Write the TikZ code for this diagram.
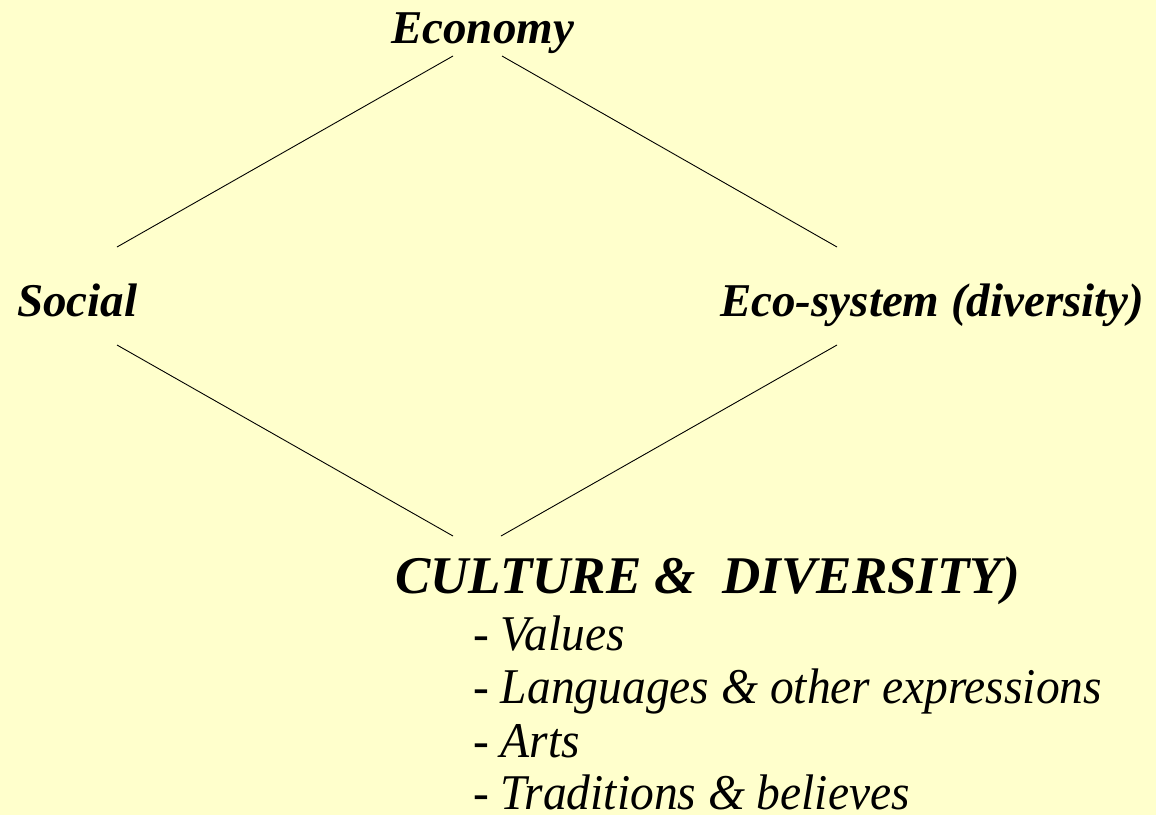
\documentclass[tikz,border=0pt]{standalone}
\usepackage{fontspec}
\setmainfont{Liberation Serif}
\newfontfamily\itemfont{Liberation Serif}[FakeStretch=0.95]
\definecolor{bgyellow}{HTML}{FFFFCC}
\begin{document}
\begin{tikzpicture}[x=1pt,y=-1pt,
  head/.style={anchor=base west,inner sep=0pt,font=\fontsize{47}{50}\selectfont\bfseries\itshape},
  big/.style={anchor=base west,inner sep=0pt,font=\fontsize{53}{56}\selectfont\bfseries\itshape},
  item/.style={anchor=base west,inner sep=0pt,font=\itemfont\fontsize{50}{52}\selectfont\itshape},
  link/.style={draw=black,line width=0.9pt}]
\fill[bgyellow] (0,0) rectangle (1156,815);
\useasboundingbox (0,0) rectangle (1156,815);
\node[head] (econ) at (391,43) {Economy};
\node[head] (social) at (17,316) {Social};
\node[head] (eco) at (720,316) {Eco-system (diversity)};
\node[big] (culture) at (395,593) {CULTURE \&\ \ DIVERSITY)};
\node[item] (i1) at (473,650) {- Values};
\node[item] (i2) at (473,703) {- Languages \& other expressions};
\node[item] (i3) at (473,757) {- Arts};
\node[item] (i4) at (473,809) {- Traditions \& believes};
\coordinate (econL) at (453,56);
\coordinate (econR) at (502,56);
\coordinate (socT) at (117,247);
\coordinate (socB) at (117,345);
\coordinate (ecoT) at (837,247);
\coordinate (ecoB) at (837,345);
\coordinate (culL) at (453,536);
\coordinate (culR) at (501,536);
\draw[link] (econL) -- (socT);
\draw[link] (econR) -- (ecoT);
\draw[link] (socB) -- (culL);
\draw[link] (ecoB) -- (culR);
\end{tikzpicture}
\end{document}
